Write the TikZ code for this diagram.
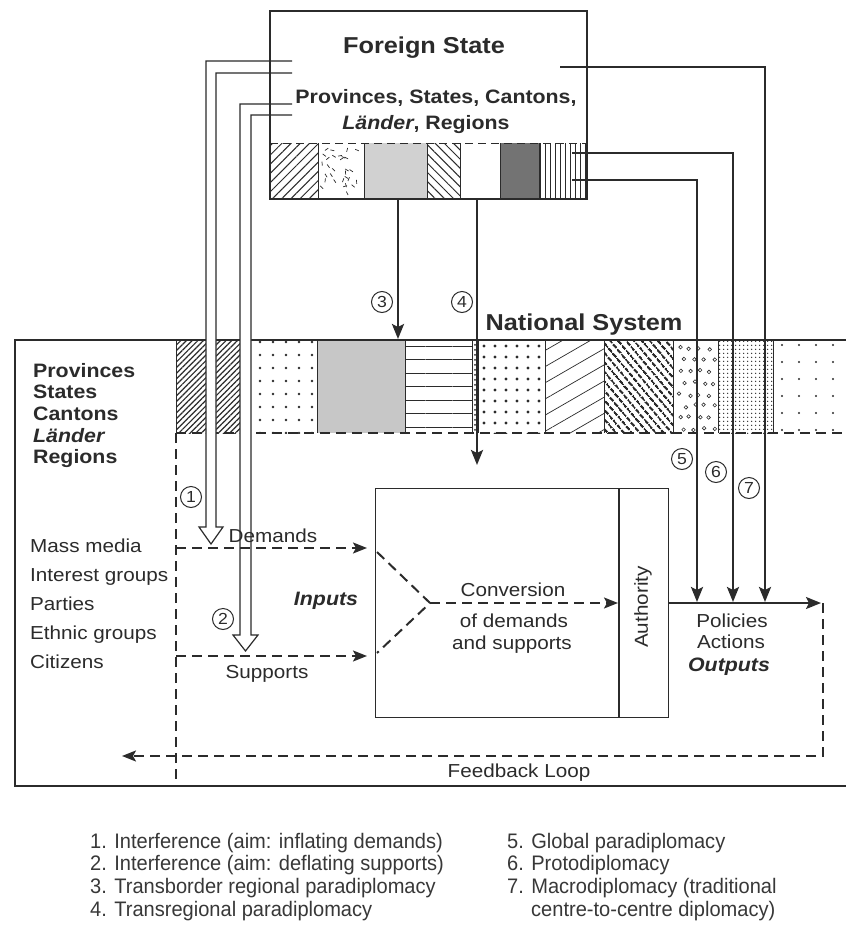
\documentclass[tikz,border=0pt]{standalone}
\usepackage{fontspec}
\setmainfont{Liberation Sans}
\newfontfamily\labfont{Liberation Sans}[FakeStretch=1.1]
\newfontfamily\legfont{Liberation Sans}[FakeStretch=0.955]
\usetikzlibrary{patterns.meta,arrows.meta}
\definecolor{ink}{HTML}{2B2B2B}
\begin{document}
\begin{tikzpicture}[x=1bp,y=-1bp,
  lbl/.style={font=\labfont\fontsize{18.8bp}{22bp}\selectfont, text=ink, inner sep=0},
  blbl/.style={font=\labfont\bfseries\fontsize{19.4bp}{22bp}\selectfont, text=ink, inner sep=0},
  ttl/.style={font=\labfont\bfseries\fontsize{23bp}{26bp}\selectfont, text=ink, inner sep=0},
  leg/.style={font=\legfont\fontsize{21bp}{24bp}\selectfont, text=black!78, inner sep=0, anchor=base west},
  num/.style={circle, draw=ink, line width=1bp, minimum size=21bp, inner sep=0, text=ink,
    font=\labfont\fontsize{16bp}{16bp}\selectfont},
  conn/.style={draw=ink, line width=2.4bp, -{Stealth[length=15bp,width=12bp,inset=3bp]}},
  dconn/.style={draw=ink, line width=2bp, dash pattern=on 10bp off 6bp, -{Stealth[length=14bp,width=11bp,inset=3bp]}},
  dline/.style={draw=ink, line width=2bp, dash pattern=on 10bp off 6bp},
  thin/.style={draw=ink, line width=0.8bp},
  hollow/.style={draw=ink, fill=white, line width=1.2bp},
  pl/.style={pattern color=ink}
]
\useasboundingbox (0,0) rectangle (846,940);
\fill[white] (0,0) rectangle (846,940);

% ---------- Foreign State strip ----------
\fill[pl, pattern={Lines[angle=45,distance=6.5bp,line width=1bp]}] (270,143) rectangle (318,198);
\pgfmathsetseed{11}
\foreach \i in {1,...,30}{
  \pgfmathsetmacro{\cx}{320+rnd*40}
  \pgfmathsetmacro{\cy}{146+rnd*48}
  \pgfmathsetmacro{\ca}{rnd*180}
  \draw[ink, line width=0.7bp] (\cx,\cy) -- ++(\ca:4);
}
\fill[black!18] (364,143) rectangle (427,198);
\fill[pl, pattern={Lines[angle=-45,distance=6.5bp,line width=1bp]}] (427,143) rectangle (460,198);
\fill[black!55] (500,143) rectangle (539,198);
\fill[pl, pattern={Lines[angle=90,distance=5bp,line width=1bp]}] (539,143) rectangle (586,198);
\foreach \x in {318,364,427,460,500,539} \draw[thin] (\x,143) -- (\x,198);
\draw[ink, line width=1bp, dash pattern=on 8bp off 5bp] (270,143) -- (586,143);

% ---------- National System strip ----------
\fill[pl, pattern={Lines[angle=45,distance=4bp,line width=1.2bp]}] (176,340) rectangle (240,433);
\fill[pl, pattern={Dots[radius=1.3bp,distance=13bp]}] (240,340) rectangle (317,433);
\fill[black!22] (317,340) rectangle (405,433);
\fill[pl, pattern={Lines[angle=0,distance=13.5bp,line width=0.8bp]}] (405,340) rectangle (472,433);
\fill[pl, pattern={Dots[radius=1bp,distance=5bp]}] (472,340) rectangle (478,433);
\fill[pl, pattern={Dots[radius=1.7bp,distance=11bp]}] (478,340) rectangle (545,433);
\fill[pl, pattern={Lines[angle=30,distance=14bp,line width=0.7bp]}] (545,340) rectangle (604,433);
\fill[pl, pattern={Lines[angle=-50,distance=6bp,line width=2.3bp]}] (604,340) rectangle (673,433);
\foreach \r in {0,...,7}{\foreach \c in {0,...,3}{
  \pgfmathsetmacro{\cx}{678+\c*10+mod(\r,2)*5+rnd*3}
  \pgfmathsetmacro{\cy}{347+\r*11.5+rnd*3}
  \draw[ink, line width=0.6bp] (\cx,\cy) circle[radius=1.8];
}}
\fill[pl, pattern={Dots[radius=0.8bp,distance=3.6bp]}] (718,340) rectangle (773,433);
\fill[pl, pattern={Dots[radius=1.1bp,distance=17bp]}] (773,340) rectangle (846,433);
\foreach \x in {176,240,317,405,472,478,545,604,673,718,773} \draw[thin] (\x,340) -- (\x,433);
\draw[dline, line width=1.2bp] (176,433) -- (846,433);

% ---------- National System frame ----------
\coordinate (nsTR) at (846,340);
\coordinate (nsTL) at (15,340);
\coordinate (nsBL) at (15,786);
\coordinate (nsBR) at (846,786);
\draw[ink, line width=2bp] (nsTR) -- (nsTL) -- (nsBL) -- (nsBR);

% left dashed boundary
\coordinate (vdTop) at (176,433);
\coordinate (vdBot) at (176,786);
\draw[dline, line width=1.3bp] (vdTop) -- (vdBot);

% ---------- hollow arrows 1 and 2 ----------
\filldraw[hollow] (292,61) -| (206,527) -- (199,527) -- (211,544) -- (223,527) -- (216,527) |- (292,73);
\filldraw[hollow] (292,104) -| (240,635) -- (233,635) -- (245.5,651) -- (258,635) -- (251,635) |- (292,115);

% ---------- Foreign State box ----------
\node[draw=ink, line width=1.8bp, minimum width=317bp, minimum height=188bp, anchor=north west, inner sep=0] (fsbox) at (269,10) {};
\node[ttl, anchor=base] (fstitle) at (424,53) {Foreign State};
\node[blbl, anchor=base] (fsprov) at (436,103) {Provinces, States, Cantons,};
\node[blbl, anchor=base] (fslaen) at (426,129) {\textit{Länder}, Regions};

\node[ttl, anchor=base] (nstitle) at (584,330) {National System};

% ---------- left labels ----------
\node[blbl, anchor=base west] (lp1) at (33,377) {Provinces};
\node[blbl, anchor=base west] (lp2) at (33,398) {States};
\node[blbl, anchor=base west] (lp3) at (33,420) {Cantons};
\node[blbl, anchor=base west] (lp4) at (33,442) {\textit{Länder}};
\node[blbl, anchor=base west] (lp5) at (33,463) {Regions};
\node[lbl, anchor=base west] (lm1) at (30,552) {Mass media};
\node[lbl, anchor=base west] (lm2) at (30,581) {Interest groups};
\node[lbl, anchor=base west] (lm3) at (30,610) {Parties};
\node[lbl, anchor=base west] (lm4) at (30,639) {Ethnic groups};
\node[lbl, anchor=base west] (lm5) at (30,668) {Citizens};

% ---------- conversion box ----------
\node[draw=ink, line width=1.2bp, minimum width=293bp, minimum height=229bp, anchor=north west, inner sep=0] (cbox) at (375,488) {};
\coordinate (authT) at (619,488);
\coordinate (authB) at (619,717);
\draw[ink, line width=1.2bp] (authT) -- (authB);
\node[lbl, rotate=90] (auth) at (643,607) {Authority};

% ---------- inputs ----------
\coordinate (dS) at (176,548);
\coordinate (dE) at (367,548);
\coordinate (sS) at (176,656);
\coordinate (sE) at (367,656);
\draw[dconn] (dS) -- (dE);
\draw[dconn] (sS) -- (sE);
\node[lbl, anchor=base] (demands) at (273,542) {Demands};
\node[lbl, anchor=base] (supports) at (267,678) {Supports};
\node[blbl, anchor=base] (inputs) at (326,605) {\textit{Inputs}};

\coordinate (vA) at (377,552);
\coordinate (vM) at (430,603);
\coordinate (vB) at (377,653);
\coordinate (authIn) at (618,603);
\draw[dline] (vA) -- (vM) -- (vB);
\draw[dconn] (vM) -- (authIn);
\node[lbl, anchor=base] (conv) at (513,596) {Conversion};
\node[lbl, anchor=base] (ofd) at (514,627) {of demands};
\node[lbl, anchor=base] (ands) at (512,649) {and supports};

% ---------- outputs and feedback ----------
\coordinate (outS) at (668,603);
\coordinate (outE) at (821,603);
\draw[conn, line width=2bp] (outS) -- (outE);
\coordinate (fbA) at (823,603);
\coordinate (fbB) at (823,756);
\coordinate (fbE) at (122,756);
\draw[dconn] (fbA) -- (fbB) -- (fbE);
\node[lbl, anchor=base] (pol) at (732,627) {Policies};
\node[lbl, anchor=base] (act) at (731,648) {Actions};
\node[blbl, anchor=base] (outp) at (729,671) {\textit{Outputs}};
\node[lbl, anchor=base] (fb) at (519,777) {Feedback Loop};

% ---------- arrows 3-7 ----------
\coordinate (a3s) at (398,198);
\coordinate (a3e) at (398,339);
\coordinate (a4s) at (477,198);
\coordinate (a4e) at (477,465);
\draw[conn] (a3s) -- (a3e);
\draw[conn] (a4s) -- (a4e);
\coordinate (a7s) at (560,67);
\coordinate (a7e) at (765,602);
\coordinate (a6s) at (572,153);
\coordinate (a6e) at (733,602);
\coordinate (a5s) at (572,180);
\coordinate (a5e) at (697,602);
\draw[conn] (a7s) -| (a7e);
\draw[conn] (a6s) -| (a6e);
\draw[conn] (a5s) -| (a5e);

% ---------- circled numbers ----------
\node[num] (n1) at (191,497) {1};
\node[num] (n2) at (223,619) {2};
\node[num] (n3) at (382,302) {3};
\node[num] (n4) at (462,302) {4};
\node[num] (n5) at (682,459) {5};
\node[num] (n6) at (716,472) {6};
\node[num] (n7) at (749,488) {7};

% ---------- legend ----------
\node[leg] (l1) at (90,848) {1. Interference (aim: inflating demands)};
\node[leg] (l2) at (90,870) {2. Interference (aim: deflating supports)};
\node[leg] (l3) at (90,893) {3. Transborder regional paradiplomacy};
\node[leg] (l4) at (90,916) {4. Transregional paradiplomacy};
\node[leg] (l5) at (507,848) {5. Global paradiplomacy};
\node[leg] (l6) at (507,870) {6. Protodiplomacy};
\node[leg] (l7) at (507,893) {7. Macrodiplomacy (traditional};
\node[leg] (l7b) at (531,916) {centre-to-centre diplomacy)};
\end{tikzpicture}
\end{document}
